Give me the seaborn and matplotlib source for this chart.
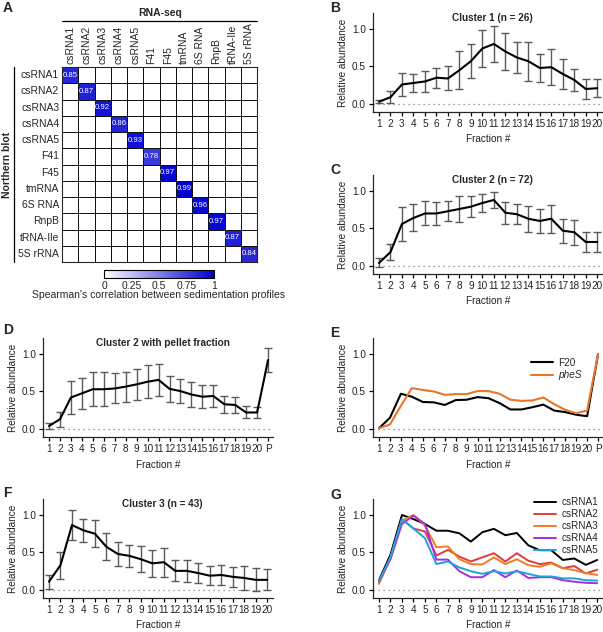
import numpy as np
import matplotlib
matplotlib.use("Agg")
import matplotlib.pyplot as plt
from matplotlib.colors import LinearSegmentedColormap
import seaborn as sns

# ---- panel A: correlation between northern blot and RNA-seq
rna_names = ["csRNA1", "csRNA2", "csRNA3", "csRNA4", "csRNA5", "F41", "F45",
             "tmRNA", "6S RNA", "RnpB", "tRNA-Ile", "5S rRNA"]
spearman_diag = [0.85, 0.87, 0.92, 0.86, 0.93, 0.78, 0.97, 0.99, 0.96, 0.97, 0.87, 0.84]

# ---- fraction profiles
fractions = list(range(1, 21))
fractions_p = list(range(1, 22))
frac_labels = [str(i) for i in fractions]
frac_labels_p = frac_labels + ["P"]

c1_mean = [0.03, 0.09, 0.26, 0.28, 0.30, 0.35, 0.34, 0.45, 0.57, 0.74,
           0.80, 0.70, 0.62, 0.57, 0.48, 0.49, 0.40, 0.32, 0.20, 0.21]
c1_err = [0.02, 0.08, 0.15, 0.12, 0.135, 0.135, 0.16, 0.25, 0.23, 0.245,
          0.235, 0.25, 0.21, 0.26, 0.19, 0.24, 0.20, 0.145, 0.13, 0.12]

c2_mean = [0.04, 0.185, 0.56, 0.64, 0.70, 0.70, 0.73, 0.76, 0.79, 0.84,
           0.88, 0.71, 0.69, 0.63, 0.60, 0.63, 0.47, 0.45, 0.32, 0.32]
c2_err = [0.06, 0.11, 0.23, 0.18, 0.16, 0.15, 0.135, 0.17, 0.14, 0.12,
          0.11, 0.145, 0.13, 0.175, 0.155, 0.185, 0.16, 0.165, 0.13, 0.13]

c2p_mean = [0.04, 0.13, 0.42, 0.475, 0.53, 0.53, 0.54, 0.565, 0.595, 0.63,
            0.655, 0.535, 0.505, 0.46, 0.43, 0.44, 0.33, 0.32, 0.22, 0.22, 0.92]
c2p_err = [0.045, 0.10, 0.225, 0.21, 0.225, 0.225, 0.20, 0.20, 0.205, 0.22,
           0.21, 0.175, 0.16, 0.17, 0.155, 0.15, 0.115, 0.11, 0.08, 0.075, 0.16]

f20 = [0.01, 0.15, 0.47, 0.43, 0.36, 0.355, 0.32, 0.385, 0.39, 0.425,
       0.41, 0.345, 0.26, 0.26, 0.29, 0.325, 0.245, 0.225, 0.19, 0.17, 1.0]
phes = [0.01, 0.06, 0.31, 0.545, 0.52, 0.50, 0.455, 0.465, 0.465, 0.505,
        0.505, 0.47, 0.39, 0.375, 0.38, 0.42, 0.33, 0.255, 0.21, 0.245, 1.0]

c3_mean = [0.11, 0.33, 0.865, 0.795, 0.75, 0.575, 0.48, 0.455, 0.41, 0.355,
           0.37, 0.255, 0.255, 0.225, 0.19, 0.20, 0.175, 0.16, 0.135, 0.135]
c3_err = [0.095, 0.18, 0.20, 0.15, 0.18, 0.18, 0.155, 0.15, 0.175, 0.18,
          0.195, 0.14, 0.145, 0.135, 0.125, 0.13, 0.135, 0.16, 0.155, 0.14]

csrna1 = [0.13, 0.47, 1.0, 0.945, 0.88, 0.79, 0.79, 0.755, 0.645, 0.77,
          0.815, 0.73, 0.76, 0.595, 0.53, 0.53, 0.40, 0.42, 0.335, 0.40]
csrna2 = [0.10, 0.435, 0.945, 0.82, 0.78, 0.46, 0.535, 0.445, 0.38, 0.435,
          0.49, 0.38, 0.49, 0.39, 0.345, 0.365, 0.29, 0.32, 0.22, 0.27]
csrna3 = [0.08, 0.42, 0.925, 1.0, 0.86, 0.57, 0.58, 0.41, 0.345, 0.34,
          0.435, 0.345, 0.41, 0.33, 0.31, 0.355, 0.29, 0.265, 0.225, 0.20]
csrna4 = [0.115, 0.41, 0.88, 0.99, 0.88, 0.405, 0.405, 0.25, 0.17, 0.17,
          0.265, 0.17, 0.26, 0.16, 0.17, 0.17, 0.13, 0.11, 0.095, 0.09]
csrna5 = [0.115, 0.435, 0.945, 0.82, 0.69, 0.345, 0.38, 0.30, 0.25, 0.215,
          0.25, 0.22, 0.25, 0.215, 0.18, 0.18, 0.155, 0.155, 0.13, 0.125]

sns.set_style("ticks")
plt.rcParams["font.family"] = ["Liberation Sans", "DejaVu Sans"]
plt.rcParams["font.size"] = 7
plt.rcParams["axes.linewidth"] = 0.9

W, H = 603, 632
fig = plt.figure(figsize=(W / 100, H / 100), dpi=100)


def px_axes(left, top, right, bottom):
    return fig.add_axes([left / W, 1 - bottom / H, (right - left) / W, (bottom - top) / H])


def style_profile(ax, x_labels, xlim, title=None):
    ax.set_xlim(*xlim)
    ax.set_ylim(-0.107, 1.213)
    ax.axhline(0, color="#808080", lw=0.9, ls=(0, (1, 3)), zorder=0)
    ax.set_xticks(range(1, len(x_labels) + 1))
    ax.set_xticklabels(x_labels)
    ax.set_yticks([0, 0.5, 1.0])
    ax.set_yticklabels(["0.0", "0.5", "1.0"])
    ax.tick_params(axis="both", labelsize=7.2, length=3, width=0.9, pad=2,
                   color="black", labelcolor="#222222")
    sns.despine(ax=ax)
    ax.set_xlabel("Fraction #", fontsize=7.2, labelpad=4, color="#222222")
    ax.set_ylabel("Relative abundance", fontsize=7.2, labelpad=3, color="#222222")
    if title:
        ax.text(0.52, 1.0, title, transform=ax.transAxes, ha="center", va="top",
                fontsize=7.2, fontweight="bold")


def profile(ax, xs, mean, err):
    ax.errorbar(xs, mean, yerr=err, fmt="none", ecolor="#5a5a5a", elinewidth=1.0,
                capsize=3, capthick=1.0, zorder=2)
    sns.lineplot(x=xs, y=mean, ax=ax, color="black", lw=1.5, zorder=3)


# ---- A heatmap
mat = np.diag(spearman_diag)
annot = np.full(mat.shape, "", dtype=object)
for i, v in enumerate(spearman_diag):
    annot[i, i] = f"{v:.2f}"
cmap = LinearSegmentedColormap.from_list("wb", ["#ffffff", "#0000d2"])

axA = px_axes(62, 67, 257, 262)
cax = px_axes(104, 270, 214, 278)
sns.heatmap(mat, ax=axA, cmap=cmap, vmin=0, vmax=1, annot=annot, fmt="",
            annot_kws=dict(size=5.6, color="white"), linewidths=0.55, linecolor="#111111",
            xticklabels=rna_names, yticklabels=rna_names, cbar_ax=cax,
            cbar_kws=dict(orientation="horizontal", ticks=[0, 0.25, 0.5, 0.75, 1]))
axA.xaxis.tick_top()
axA.tick_params(length=0, labelsize=7.5, pad=2)
plt.setp(axA.get_xticklabels(), rotation=90, va="bottom", ha="center")
plt.setp(axA.get_yticklabels(), rotation=0)
for s in axA.spines.values():
    s.set_visible(True)
    s.set_linewidth(0.8)
cax.set_xticklabels(["0", "0.25", "0.5", "0.75", "1"])
cax.tick_params(length=0, labelsize=7.5, pad=2)
cbar = axA.collections[0].colorbar
cbar.outline.set_edgecolor("black")
cbar.outline.set_linewidth(0.8)
fig.text(159 / W, 1 - 295 / H, "Spearman's correlation between sedimentation profiles",
         ha="center", va="center", fontsize=7.5)
fig.text(160 / W, 1 - 13 / H, "RNA-seq", ha="center", va="center", fontsize=7.5,
         fontweight="bold")
fig.add_artist(plt.Line2D([62 / W, 257 / W], [1 - 21 / H, 1 - 21 / H], color="black", lw=0.9))
fig.text(7 / W, 1 - 165 / H, "Northern blot", ha="center", va="center", rotation=90,
         fontsize=7.5, fontweight="bold")
fig.add_artist(plt.Line2D([14 / W, 14 / W], [1 - 67 / H, 1 - 262 / H], color="black", lw=0.9))

# ---- B
axB = px_axes(373, 13, 603, 112)
profile(axB, fractions, c1_mean, c1_err)
style_profile(axB, frac_labels, (0.48, 20.5), "Cluster 1 (n = 26)")

# ---- C
axC = px_axes(373, 175, 603, 274)
profile(axC, fractions, c2_mean, c2_err)
style_profile(axC, frac_labels, (0.48, 20.5), "Cluster 2 (n = 72)")

# ---- D
axD = px_axes(43, 338, 273, 437)
profile(axD, fractions_p, c2p_mean, c2p_err)
style_profile(axD, frac_labels_p, (0.45, 21.45), "Cluster 2 with pellet fraction")

# ---- E
axE = px_axes(373, 338, 603, 437)
sns.lineplot(x=fractions_p, y=f20, ax=axE, color="black", lw=1.5, label="F20")
sns.lineplot(x=fractions_p, y=phes, ax=axE, color="#e8772a", lw=1.5, label="pheS")
style_profile(axE, frac_labels_p, (0.45, 21.45))
legE = axE.legend(loc="upper right", bbox_to_anchor=(0.93, 0.85), frameon=False,
                  fontsize=7.2, handlelength=2.2, handletextpad=0.5, borderpad=0,
                  labelspacing=0.25)
legE.get_texts()[1].set_style("italic")

# ---- F
axF = px_axes(43, 499, 273, 598)
profile(axF, fractions, c3_mean, c3_err)
style_profile(axF, frac_labels, (0.48, 20.5), "Cluster 3 (n = 43)")

# ---- G
axG = px_axes(373, 499, 603, 598)
g_series = [("csRNA1", csrna1, "black"), ("csRNA2", csrna2, "#e23a3f"),
            ("csRNA3", csrna3, "#f07d22"), ("csRNA4", csrna4, "#a62ee0"),
            ("csRNA5", csrna5, "#1ea2dc")]
for name, vals, col in g_series:
    sns.lineplot(x=fractions, y=vals, ax=axG, color=col, lw=1.4, label=name)
style_profile(axG, frac_labels, (0.48, 20.5))
axG.legend(loc="upper right", bbox_to_anchor=(1.0, 1.07), frameon=False, fontsize=7.2,
           handlelength=2.2, handletextpad=0.5, borderpad=0, labelspacing=0.2)

# ---- panel letters
for letter, x, y in [("A", 3, 8), ("B", 330, 8), ("C", 330, 170), ("D", 3, 330),
                     ("E", 330, 333), ("F", 3, 493), ("G", 330, 495)]:
    fig.text(x / W, 1 - y / H, letter, fontsize=10, fontweight="bold",
             ha="left", va="center")

fig.savefig("out.png", dpi=100)
